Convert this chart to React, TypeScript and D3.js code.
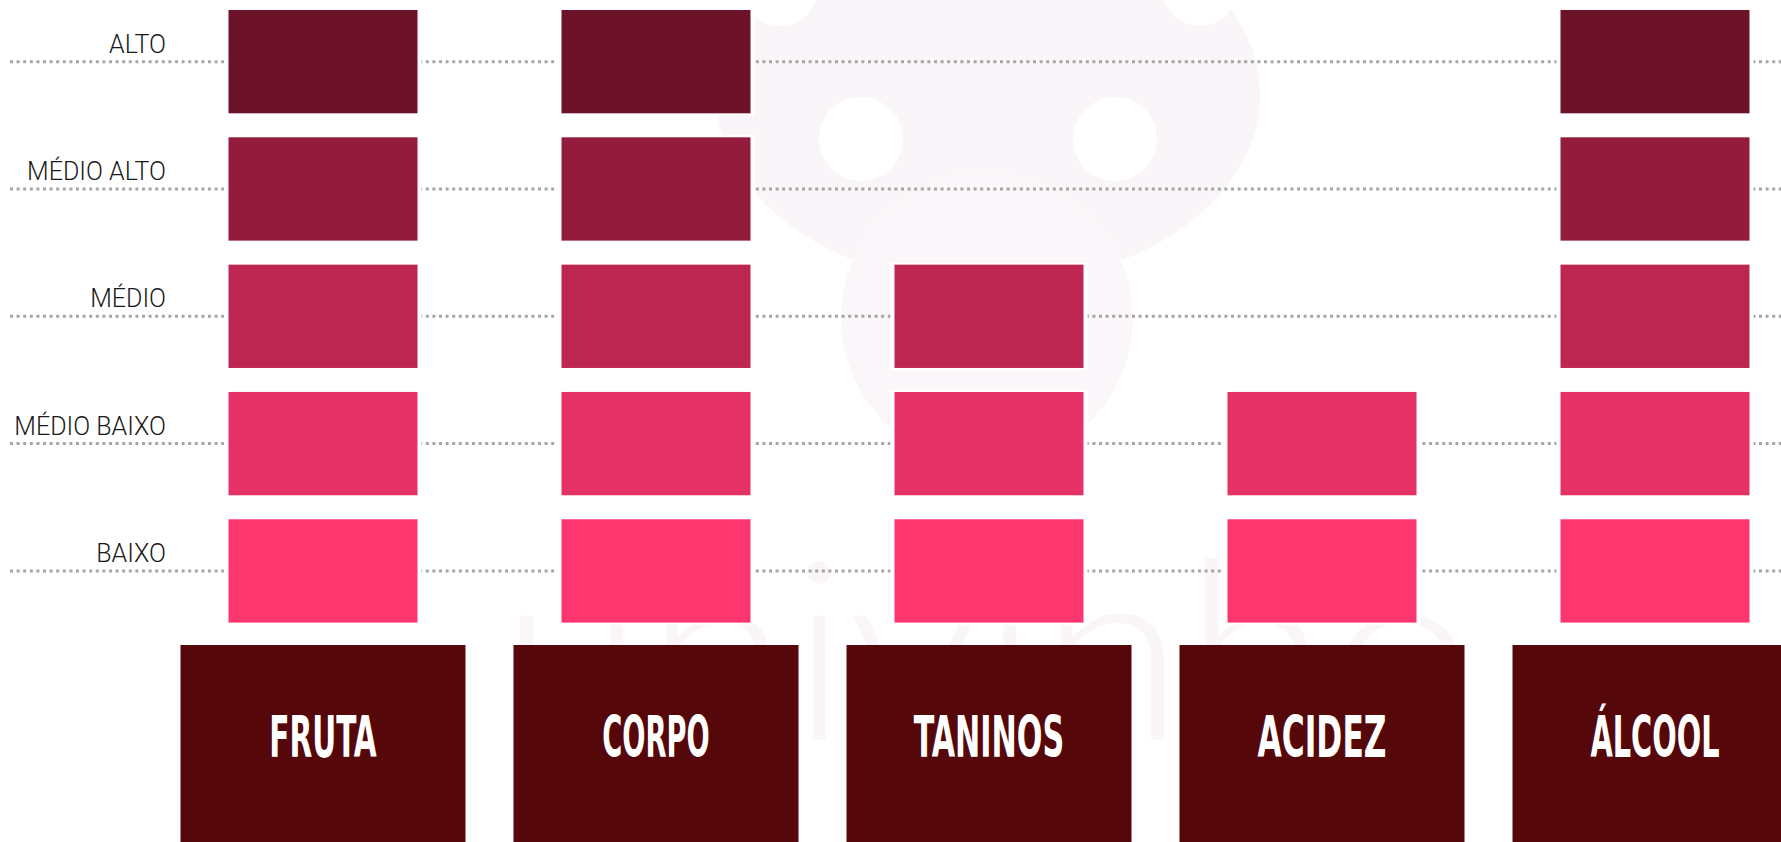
import React, { useEffect } from "react";
import * as d3 from "d3";

// ---- data ----
const levels = ["ALTO", "MÉDIO ALTO", "MÉDIO", "MÉDIO BAIXO", "BAIXO"]; // top to bottom
const levelRank = [5, 4, 3, 2, 1];
const levelColors = ["#6c1229", "#931b3c", "#bd2650", "#e43266", "#fe366f"];
const categories = ["FRUTA", "CORPO", "TANINOS", "ACIDEZ", "ÁLCOOL"];
const categoryLevel = [5, 5, 3, 2, 5]; // ALTO=5 ... BAIXO=1

const W = 1781;
const H = 842;

export default function App() {
  useEffect(() => {
    document.body.style.margin = "0";
    document.body.style.overflow = "hidden";
  }, []);

  const y = d3
    .scaleBand<string>()
    .domain(levels)
    .range([10, 622.6])
    .paddingInner(0.1885)
    .paddingOuter(0);

  const x = d3.scalePoint<string>().domain(categories).range([323, 1655]);

  const barW = 189;
  const headW = 285;
  const headTop = 645;

  const cells: { cat: string; lvl: string; color: string }[] = [];
  categories.forEach((c, i) => {
    levels.forEach((l, j) => {
      if (levelRank[j] <= categoryLevel[i]) cells.push({ cat: c, lvl: l, color: levelColors[j] });
    });
  });

  const wm = "#faf5f8";

  return (
    <svg
      width={W}
      height={H}
      style={{ position: "absolute", left: 0, top: 0, display: "block", background: "#fff" }}
    >
      {/* faint watermark */}
      <g>
        <ellipse cx={988} cy={95} rx={272} ry={190} fill={wm} />
        <circle cx={987} cy={318} r={146} fill="#fbf6f9" />
        <circle cx={861} cy={139} r={42} fill="#fff" />
        <circle cx={1115} cy={139} r={42} fill="#fff" />
        <circle cx={780} cy={-12} r={38} fill="#fff" />
        <circle cx={1200} cy={-12} r={38} fill="#fff" />
        <text
          x={500}
          y={740}
          textLength={976}
          lengthAdjust="spacingAndGlyphs"
          fontFamily="Lato, 'Noto Sans', sans-serif"
          fontWeight={300}
          fontSize={250}
          fill={wm}
        >
          univinho
        </text>
      </g>

      {/* dotted guide lines */}
      {levels.map((l) => {
        const cy = (y(l) as number) + y.bandwidth() / 2;
        return (
          <line
            key={"g" + l}
            x1={10}
            x2={W}
            y1={cy}
            y2={cy}
            stroke="#a6a6a6"
            strokeWidth={3}
            strokeDasharray="3 3.6"
          />
        );
      })}

      {/* level labels */}
      {levels.map((l) => {
        const cy = (y(l) as number) + y.bandwidth() / 2;
        return (
          <text
            key={"t" + l}
            x={166}
            y={cy - 9}
            textAnchor="end"
            fontFamily="Roboto, 'Liberation Sans', sans-serif"
            fontWeight={300}
            fontSize={25}
            fill="#1a1a1a"
          >
            {l}
          </text>
        );
      })}

      {/* cells */}
      {cells.map((d) => {
        const cx = x(d.cat) as number;
        const top = y(d.lvl) as number;
        return (
          <g key={d.cat + d.lvl}>
            <rect x={cx - barW / 2 - 4} y={top - 2} width={barW + 8} height={y.bandwidth() + 4} fill="#fff" />
            <rect x={cx - barW / 2} y={top} width={barW} height={y.bandwidth()} fill={d.color} />
          </g>
        );
      })}

      {/* category headers */}
      {categories.map((c) => {
        const cx = x(c) as number;
        return (
          <g key={"h" + c}>
            <rect x={cx - headW / 2} y={headTop} width={headW} height={H - headTop + 10} fill="#560709" />
            <text
              x={cx}
              y={757}
              textAnchor="middle"
              textLength={c.length * 21.5}
              lengthAdjust="spacingAndGlyphs"
              fontFamily="'DejaVu Sans Condensed', 'Liberation Sans Narrow', Roboto, sans-serif"
              fontWeight={700}
              fontSize={57}
              fill="#fff"
            >
              {c}
            </text>
          </g>
        );
      })}
    </svg>
  );
}
